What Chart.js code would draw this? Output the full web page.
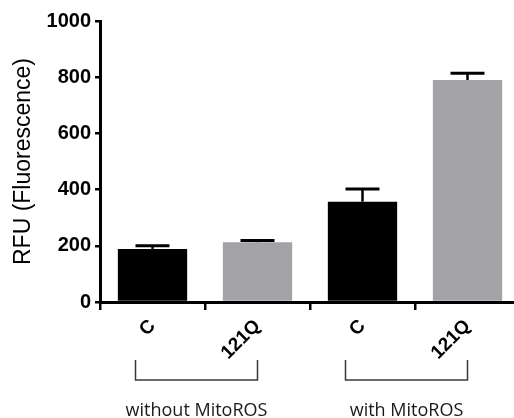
<!DOCTYPE html>
<html>
<head>
<meta charset="utf-8">
<script src="https://cdn.jsdelivr.net/npm/chart.js@4.4.1/dist/chart.umd.min.js"></script>
<style>
  html, body { margin: 0; padding: 0; background: #fff; overflow: hidden; }
  #wrap { width: 520px; height: 418px; }
</style>
</head>
<body>
<div id="wrap"><canvas id="rfu_chart" width="520" height="418"></canvas></div>
<script>
// data
let categories = ["C", "121Q", "C", "121Q"];
let rfuValues = [189, 213, 357, 790];
let rfuErrors = [11, 6, 45, 24];
let barColors = ["#000000", "#a3a2a7", "#000000", "#a3a2a7"];
let groupLabels = ["without MitoROS", "with MitoROS"];
let yTicks = [0, 200, 400, 600, 800, 1000];

// upward error bars with caps
const errorBars = {
    id: "errorBars",
    afterDatasetsDraw(chart) {
        let ctx = chart.ctx;
        let meta = chart.getDatasetMeta(0);
        let yScale = chart.scales.y;
        ctx.save();
        ctx.strokeStyle = "#000";
        meta.data.forEach((bar, i) => {
            let top = yScale.getPixelForValue(rfuValues[i] + rfuErrors[i]);
            ctx.lineWidth = 2.5;
            ctx.beginPath();
            ctx.moveTo(bar.x, bar.y);
            ctx.lineTo(bar.x, top);
            ctx.stroke();
            ctx.lineWidth = 3;
            ctx.beginPath();
            ctx.moveTo(bar.x - 17, top);
            ctx.lineTo(bar.x + 17, top);
            ctx.stroke();
        });
        ctx.restore();
    }
};

// brackets + group names under the x labels
const groupBrackets = {
    id: "groupBrackets",
    afterDraw(chart) {
        let ctx = chart.ctx;
        let xScale = chart.scales.x;
        let bottom = chart.chartArea.bottom;
        ctx.save();
        ctx.strokeStyle = "#3a3a3a";
        ctx.lineWidth = 1.5;
        groupLabels.forEach((name, g) => {
            let x1 = xScale.getPixelForValue(g * 2) - 17;
            let x2 = xScale.getPixelForValue(g * 2 + 1);
            ctx.beginPath();
            ctx.moveTo(x1, bottom + 58);
            ctx.lineTo(x1, bottom + 78);
            ctx.lineTo(x2, bottom + 78);
            ctx.lineTo(x2, bottom + 58);
            ctx.stroke();
            ctx.fillStyle = "#1a1a1a";
            ctx.font = "18px 'Open Sans'";
            ctx.textAlign = "center";
            ctx.textBaseline = "alphabetic";
            ctx.fillText(name, (x1 + x2) / 2, bottom + 114);
        });
        ctx.restore();
    }
};

Chart.defaults.font.family = "'Liberation Sans', Arial, sans-serif";
Chart.defaults.color = "#000";

new Chart("rfu_chart", {
    type: "bar",
    data: {
        labels: categories,
        datasets: [{
            data: rfuValues,
            backgroundColor: barColors,
            borderWidth: 0,
            barPercentage: 0.66,
            categoryPercentage: 1.0
        }]
    },
    options: {
        responsive: false,
        animation: false,
        layout: { padding: { top: 21, right: 0, bottom: 0, left: 0 } },
        plugins: {
            legend: { display: false },
            tooltip: { enabled: false }
        },
        scales: {
            x: {
                offset: true,
                border: { display: true, color: "#000", width: 3 },
                grid: { drawOnChartArea: false, color: "#000", lineWidth: 2.5, tickLength: 8 },
                ticks: {
                    font: { size: 19, weight: "bold" },
                    maxRotation: 45,
                    minRotation: 45,
                    padding: 5
                },
                afterFit: function (scale) { scale.height = 116; }
            },
            y: {
                min: 0,
                max: 1000,
                border: { display: true, color: "#000", width: 3 },
                grid: { drawOnChartArea: false, color: "#000", lineWidth: 2.5, tickLength: 5 },
                afterBuildTicks: function (scale) {
                    scale.ticks = yTicks.map(v => ({ value: v }));
                },
                ticks: {
                    font: { size: 20, weight: "bold" },
                    padding: 4,
                    callback: function (value) { return String(value); }
                },
                title: {
                    display: true,
                    text: "RFU (Fluorescence)",
                    font: { size: 23 },
                    padding: { top: 10, bottom: 0 }
                },
                afterFit: function (scale) { scale.width = 100; }
            }
        }
    },
    plugins: [errorBars, groupBrackets]
});
</script>
</body>
</html>
